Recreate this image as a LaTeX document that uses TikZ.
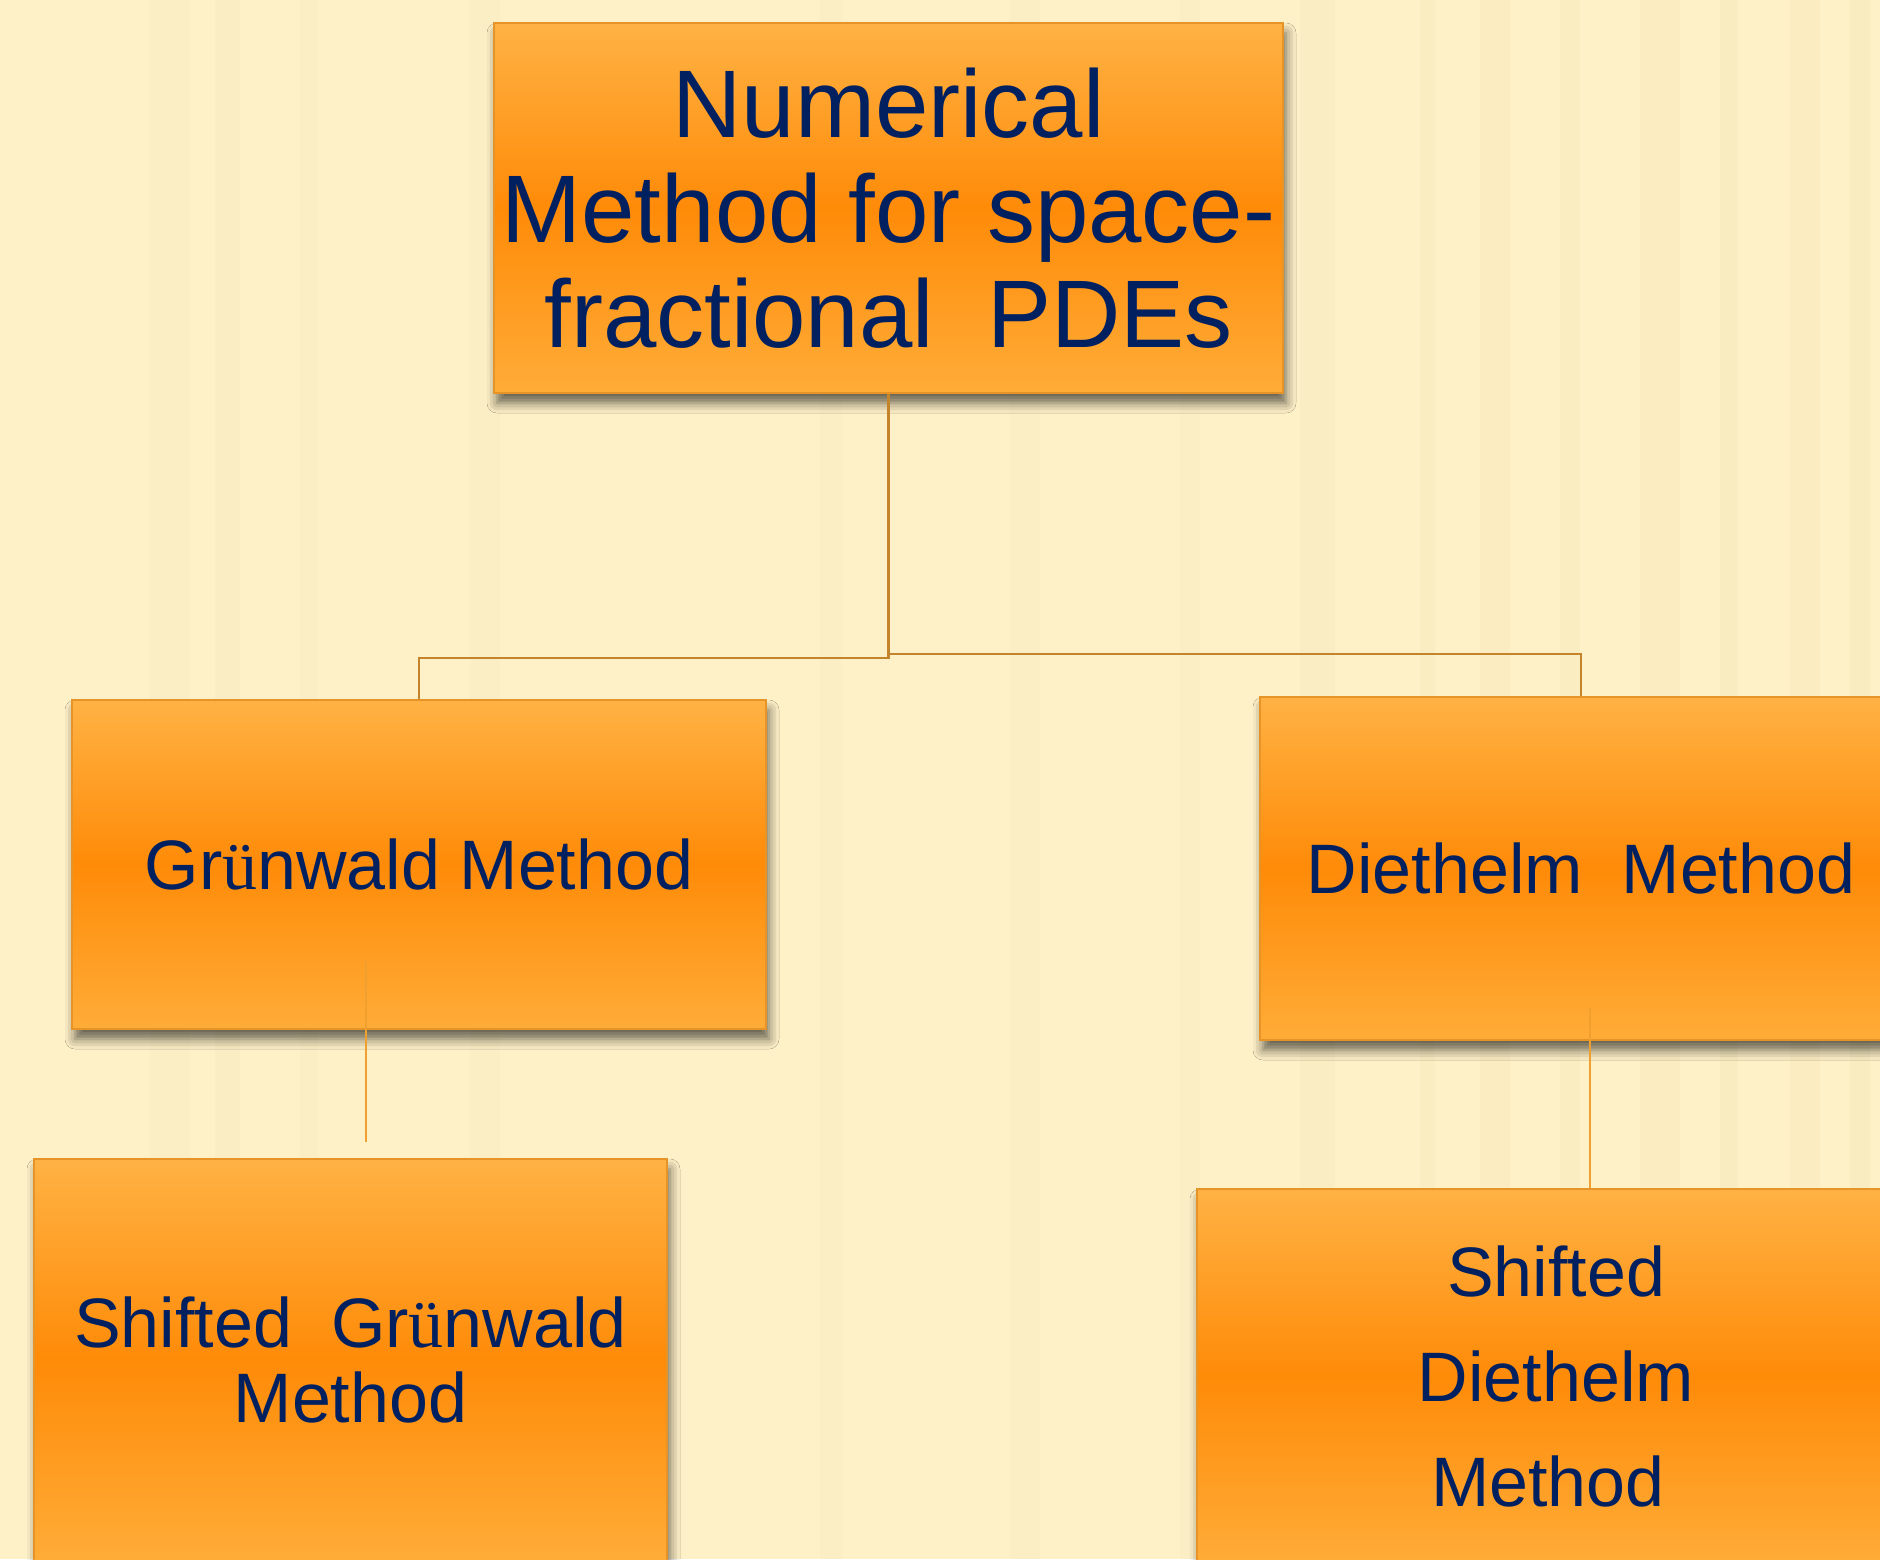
\documentclass[tikz,border=0pt]{standalone}
\usepackage{fontspec}
\setmainfont{Liberation Sans}
\newfontfamily\serifu{Liberation Serif}
\usetikzlibrary{calc,shadows.blur}
\definecolor{cream}{RGB}{254,240,199}
\definecolor{streak}{RGB}{240,224,176}
\definecolor{navy}{RGB}{0,32,96}
\definecolor{boxtop}{RGB}{255,178,68}
\definecolor{boxmid}{RGB}{255,139,8}
\definecolor{boxbot}{RGB}{255,172,56}
\definecolor{boxedge}{RGB}{230,148,40}
\definecolor{linkdark}{RGB}{196,132,44}
\definecolor{linklight}{RGB}{240,160,48}
% umlaut set in a serif face
\newcommand{\uuml}{{\serifu ü}}
\tikzset{
  method/.style={draw=boxedge, line width=0.6pt,
    top color=boxtop, bottom color=boxbot, middle color=boxmid,
    text=navy, align=center, inner sep=0pt,
    blur shadow={shadow xshift=1.5pt, shadow yshift=-5pt,
      shadow blur radius=5pt, shadow blur extra rounding=0pt,
      shadow opacity=60}},
  link/.style={draw=linkdark, line width=1.1pt},
  sublink/.style={draw=linklight, line width=1pt},
  bigtext/.style={font=\fontsize{48}{52.5}\selectfont},
  midtext/.style={font=\fontsize{35}{37.5}\selectfont},
  widetext/.style={font=\fontsize{35}{52.5}\selectfont}
}
\begin{document}
\begin{tikzpicture}[x=0.5pt,y=-0.5pt]
\useasboundingbox (0,0) rectangle (1880,1559);
\clip (0,0) rectangle (1880,1559);
% background with faint vertical streaks
\fill[cream] (0,0) rectangle (1880,1559);
\foreach \sx/\sw/\so in {150/40/0.12,215/25/0.15,300/18/0.1,470/30/0.1,
  820/22/0.1,1010/30/0.12,1180/20/0.12,1300/35/0.15,1420/15/0.18,
  1480/30/0.2,1560/20/0.18,1640/40/0.2,1720/18/0.22,1790/30/0.2,1850/20/0.22}
  \fill[streak, opacity=\so] (\sx,0) rectangle ++(\sw,1559);

% boxes
\node[method, bigtext, minimum width=394.5pt, minimum height=185pt]
  (top) at (888.5,208) {Numerical\\Method for space-\\fractional\ \ PDEs};
\node[method, midtext, minimum width=347pt, minimum height=164.5pt]
  (grun) at (419,864.5) {Gr\uuml nwald Method};
\node[method, midtext, minimum width=321pt, minimum height=171.5pt]
  (diet) at (1581,868.5) {Diethelm\ \ Method};
\node[method, midtext, minimum width=316.5pt, minimum height=201pt]
  (sgrun) at (350.5,1360) {Shifted\ \ Gr\uuml nwald\\Method};
\node[method, widetext, minimum width=359pt, minimum height=187pt]
  (sdiet) at (1556,1376) {Shifted\\Diethelm\\Method\hspace*{8pt}};

% connectors
\draw[link] (top.south) -- ++(0,264) -| (grun.north);
\path (top.south) ++(0,260) coordinate (jr);
\draw[link] (top.south) -- (jr) -| (diet.north);
\draw[sublink] ($(grun.south)+(-53,-69)$) -- ($(sgrun.north)+(15.5,-16)$);
\draw[sublink] ($(diet.south)+(9,-33)$) -- ($(sdiet.north)+(34,0)$);
\end{tikzpicture}
\end{document}
